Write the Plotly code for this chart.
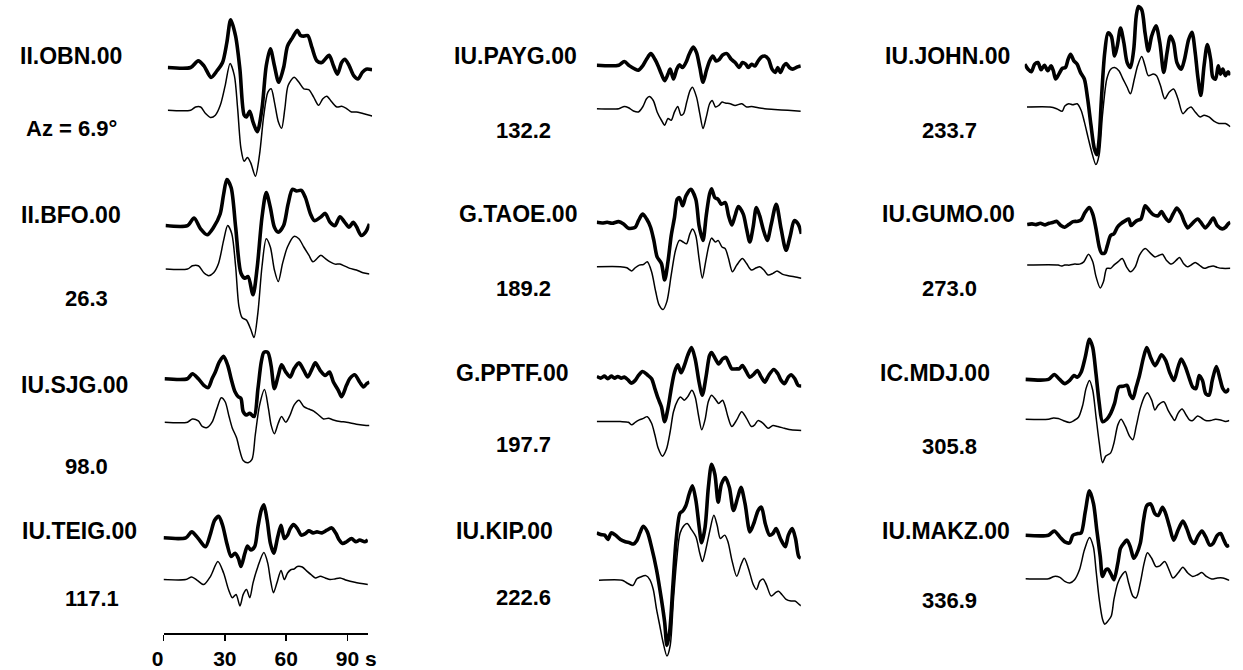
import plotly.graph_objects as go

W, H = 1243, 670

# ---------------- data (time in s, amplitude in display units, positive up) -------------
stations = ["II.OBN.00", "II.BFO.00", "IU.SJG.00", "IU.TEIG.00",
            "IU.PAYG.00", "G.TAOE.00", "G.PPTF.00", "IU.KIP.00",
            "IU.JOHN.00", "IU.GUMO.00", "IC.MDJ.00", "IU.MAKZ.00"]
azimuths = ["Az = 6.9°", "26.3", "98.0", "117.1",
            "132.2", "189.2", "197.7", "222.6",
            "233.7", "273.0", "305.8", "336.9"]
time_ticks = [0, 30, 60, 90]
time_tick_labels = ["0&nbsp;&nbsp;", "30", "60", "&nbsp;&nbsp;&nbsp;90&nbsp;s"]

# II.OBN.00
obn_t_obs = [0, 11.2, 14.9, 17.7, 21.2, 24.1, 26.8, 28.9, 30.8, 33.2, 35.3, 37.4, 38.5, 40.1, 41.7, 43.8, 46.1, 48.2, 50.2, 52.2, 54.3, 56.7, 58.6, 61.0, 63.4, 65.0, 66.6, 68.5, 70.6, 73.0, 75.4, 77.0, 79.0, 81.1, 83.0, 85.1, 86.7, 88.8, 91.0, 93.1, 95.2, 97.1, 100]
obn_a_obs = [0, 0, 6.7, 1.7, -10, -3.3, 5, 25, 48.3, 31.7, -1.7, -48.3, -50, -44.3, -55, -65, -41.7, 1.7, 19, 1.7, -15, 0, 21.7, 30, 37.7, 32.3, 31.7, 32.3, 20, 6.7, 5, 8.3, 12.3, 1.7, -6.7, 5, 8.3, 1.7, -8.3, -11.7, -5, -1.7, -2.3]
obn_t_syn = [0, 11.2, 13.6, 16.1, 18.5, 20.9, 23.3, 25.7, 28.1, 30.5, 32.6, 34.2, 35.8, 37.4, 39.0, 40.6, 42.9, 44.9, 47.0, 49.0, 50.6, 52.2, 54.1, 55.7, 57.3, 58.9, 61.8, 64.2, 66.6, 69.0, 71.4, 73.8, 75.9, 77.8, 80.3, 82.7, 85.1, 87.5, 89.9, 92.3, 95.5, 100]
obn_a_syn = [0, 0, 3.3, 3.3, -3.3, -7.3, -5, 5, 25, 47.3, 35, 1.7, -38.3, -51.7, -47.7, -53.3, -66.7, -45, -5, 18.3, 21.7, 8.3, -11.7, -18.3, 1.7, 25, 33.3, 28.3, 21.7, 21, 13.3, 5, 11.7, 14.3, 8.3, 3.3, 4, 1.7, -1.7, -1.7, -3.3, -5.7]

# II.BFO.00
bfo_t_obs = [0, 10.8, 14.0, 17.2, 20.4, 23.6, 26.8, 28.5, 30.1, 32.2, 34.4, 37.0, 38.9, 40.5, 42.9, 45.0, 47.3, 49.4, 51.4, 53.4, 55.3, 57.9, 60.1, 62.2, 64.3, 66.6, 68.6, 71.1, 73.0, 75.9, 78.3, 80.7, 83.1, 85.5, 87.9, 90.0, 92.0, 93.6, 96.0, 98.1, 100]
bfo_a_obs = [0, 0, 7.7, -3.3, -9.3, -1.7, 11.7, 31.7, 46.7, 38.3, -1.7, -48.3, -53.3, -51.7, -70, -41.7, 8.3, 33.3, 18.3, -1.7, -6.7, 0, 21.7, 36.7, 35, 35.7, 28.3, 11.7, 5, 8.3, 12.3, 3.3, 0, 9, 3.3, -1.7, 3.3, -1, -10, -6.7, 1.7]
bfo_t_syn = [0, 10.8, 13.2, 16.1, 18.8, 21.2, 23.6, 26.0, 28.5, 30.5, 32.5, 34.4, 36.0, 37.6, 39.7, 41.8, 43.4, 45.3, 47.3, 49.4, 51.4, 53.4, 55.3, 57.4, 59.8, 63.0, 65.4, 67.8, 70.3, 72.3, 74.3, 76.2, 78.3, 80.7, 83.1, 85.5, 87.9, 90.4, 93.6, 96.8, 100]
bfo_a_syn = [0, 0, 3.3, 3.3, -3.7, -6.7, -3.7, 5.7, 29, 44, 35.7, 2.3, -37.7, -49.3, -51.7, -61, -69.3, -44.3, 2.3, 30.7, 22.3, -1, -12.7, 5.7, 22.3, 33, 30.7, 22.3, 14, 7.3, 10.7, 14, 10.7, 7.3, 5, 5, 3, 0.7, -1, -3.7, -5]

# IU.SJG.00
sjg_t_obs = [0, 11.2, 13.6, 16.5, 19.2, 21.3, 23.2, 24.8, 26.7, 28.8, 30.9, 32.5, 34.4, 36.0, 37.3, 38.4, 40.0, 41.6, 43.7, 45.6, 47.2, 48.5, 50.4, 52.0, 53.6, 55.5, 57.1, 59.2, 61.3, 63.2, 65.6, 68.0, 69.9, 72.0, 73.6, 76.0, 78.4, 80.5, 82.4, 84.8, 86.4, 88.8, 90.4, 92.8, 95.2, 97.1, 98.7, 100]
sjg_a_obs = [0, 0, 5, 0, -6.7, -9, 0, 6.7, 16.7, 22.7, 13.3, 0, -13.3, -18.3, -20, -33.3, -36.7, -35, -38.3, -10, 16.7, 26.7, 26.7, 13.3, -10, 3.3, 14, 6.7, 1.7, 10, 16, 8.3, 1.7, 10, 16, 8.3, 3.3, 6.7, -3.3, -11.7, -18.3, -6.7, 0, 4, -3.3, -8.3, -5, -3.3]
sjg_t_syn = [0, 11.2, 13.6, 16.5, 18.4, 20.8, 23.2, 25.6, 27.7, 29.6, 31.5, 33.1, 35.2, 36.8, 38.4, 40.8, 42.7, 44.3, 46.4, 48.8, 50.7, 52.0, 53.6, 55.5, 57.1, 59.2, 61.3, 63.2, 65.6, 68.0, 70.4, 72.8, 75.2, 77.6, 80.0, 82.4, 85.6, 88.8, 93.6, 98.4, 100]
sjg_a_syn = [0, 0, 3.3, 1.3, -4.3, -5.3, 0, 14, 24.7, 20.7, 5.7, -6, -16, -29.3, -38.7, -41, -37.7, -12.7, 17.3, 33, 14, -2.7, -11.7, -1, 5.7, 0, 7.3, 17.3, 22.3, 15.7, 13.3, 11.3, 7.3, 3.3, 4, 2.3, 0.7, 0, -2, -3.3, -3.3]

# IU.TEIG.00
teig_t_obs = [0, 10.9, 13.8, 17.0, 20.5, 23.0, 25.0, 27.0, 28.9, 31.0, 33.1, 35.0, 36.6, 37.9, 39.8, 41.1, 42.7, 44.6, 46.2, 47.8, 49.1, 50.7, 52.3, 53.9, 55.9, 57.5, 59.1, 60.7, 62.0, 63.6, 65.5, 67.4, 69.5, 71.1, 73.2, 75.1, 77.5, 79.9, 82.3, 84.4, 86.0, 87.6, 89.6, 92.0, 94.1, 96.0, 98.4, 100]
teig_a_obs = [0, 0, 6, -0.7, -9, 4.3, 17.7, 21.7, 12.7, -5.7, -19, -15.7, -20.7, -29, -15.7, -8.3, -12.3, -9, 11, 27.7, 33.3, 17.7, -5.7, -15.7, 1, 12.7, -0.7, 2.7, 9.3, 13.3, 9.3, 2.7, 4.3, 7, 5, 6, 5, 7.7, 10, 4.3, -2.3, -5.7, -4, -0.7, -4, -2.3, -4, -2.3]
teig_t_syn = [0, 10.9, 13.8, 16.5, 19.7, 23.0, 26.6, 29.4, 31.8, 33.7, 35.5, 37.4, 39.0, 40.6, 42.2, 43.8, 46.2, 49.1, 51.0, 52.3, 53.8, 55.5, 57.5, 59.1, 60.7, 62.3, 63.9, 65.5, 67.9, 70.3, 72.2, 74.3, 76.7, 79.1, 81.5, 83.9, 86.4, 89.6, 93.6, 100]
teig_a_syn = [0, 0, 2.7, -0.7, -5, 3.3, 18.3, 6.7, -10, -18.3, -15, -26.7, -15, -10, -18.3, -3.3, 13.3, 27.3, 16.7, 0, -13.3, -3.3, 9.3, 0, 6.7, 10, 10.7, 13.3, 12.7, 8.3, 5, 1.7, 3.3, 1.7, 0, 0.7, 1.7, -0.7, -2.7, -5]

# IU.PAYG.00
payg_t_obs = [0, 10.8, 13.5, 16.1, 18.8, 20.4, 22.5, 24.4, 26.5, 28.5, 30.1, 31.7, 33.3, 34.9, 36.0, 37.6, 39.2, 40.5, 42.1, 43.7, 45.3, 47.3, 48.9, 50.5, 52.1, 53.7, 55.3, 56.9, 58.5, 60.1, 61.7, 63.8, 65.9, 67.8, 69.8, 71.4, 73.0, 74.3, 75.9, 77.5, 79.1, 80.7, 82.3, 84.2, 85.9, 87.5, 88.7, 90.0, 91.6, 92.8, 94.4, 96.0, 98.4, 100]
payg_a_obs = [0, 0, 3.7, -0.7, -4, -5, -0.7, 6, 11.7, 6, -0.7, -9, -15.7, -9, -4, -14, -4, 0.3, -2.3, 2.7, 11, 18.3, 12.7, -2.3, -17.3, -5.7, 4.3, 9.3, 4.3, 6, 10.3, 11.7, 6, 2.7, -2.3, 2.7, 1, -2.3, 1, -0.7, 4.3, 8.3, 9.3, 6, -4, -7.3, -2.3, -7.3, -0.7, 1.7, -2.3, -4, -1.7, -0.7]
payg_t_syn = [0, 10.8, 13.5, 15.6, 18.0, 20.4, 22.5, 24.4, 25.7, 27.7, 29.6, 31.7, 33.3, 34.9, 36.5, 38.1, 39.7, 41.3, 42.6, 44.1, 45.7, 46.9, 48.9, 50.5, 52.1, 53.7, 55.3, 56.6, 58.2, 59.8, 61.4, 63.0, 65.4, 67.8, 71.1, 73.5, 75.9, 79.1, 82.3, 87.1, 93.6, 100]
payg_a_syn = [0, 0, 2.3, 1, -2.3, -3.3, 1.7, 10, 12.3, 8.3, -3.3, -11.7, -16.7, -10, -11.7, -3.3, 2.3, -6.7, -5, 6.7, 18.3, 21.7, 11.7, -5, -20, -8.3, 5, 8.3, 1.7, 3.3, 6.7, 5.7, 5, 3.3, 5, 1.7, 2.3, 1, 0, -0.7, -1.7, -2.7]

# G.TAOE.00
taoe_t_obs = [0, 2.7, 5.1, 7.5, 10.7, 13.1, 15.5, 18.8, 20.4, 22.4, 24.4, 26.3, 27.9, 29.5, 31.6, 33.2, 34.8, 36.4, 38.0, 39.3, 40.4, 42.0, 43.6, 46.0, 48.4, 50.0, 51.9, 53.5, 55.1, 56.1, 57.7, 59.3, 60.9, 62.8, 64.4, 66.0, 67.6, 69.2, 71.6, 73.2, 74.8, 76.4, 78.0, 79.6, 81.3, 83.3, 85.3, 87.7, 90.1, 92.5, 94.6, 96.5, 98.4, 100]
taoe_a_obs = [0, -0.7, 0, -1, 0.7, -1.7, -6, -5, 1.7, 8.3, 3.3, -5, -18.3, -35, -41.7, -58.3, -40, -13.3, 5, 23.3, 25, 16.7, 26.7, 33.3, 23.3, -3.3, -18.3, 6.7, 28.3, 34, 25, 23.3, 18.3, 20, 6.7, -2.7, 6.7, 16, 8.3, -6.7, -20, -5, 15, 6.7, -6.7, -18.3, -1.7, 18.3, -6.7, -28.3, -13.3, 1.7, -1.7, -11.7]
taoe_t_syn = [0, 11.5, 14.7, 17.1, 18.8, 20.8, 22.8, 24.7, 26.8, 28.8, 30.4, 32.4, 34.3, 36.4, 38.5, 40.4, 42.3, 43.9, 45.5, 46.8, 48.4, 50.0, 51.6, 53.2, 54.8, 56.1, 58.0, 59.3, 61.2, 62.8, 64.4, 66.3, 68.4, 71.2, 73.2, 75.6, 78.0, 79.6, 81.7, 83.7, 86.1, 88.1, 90.9, 93.6, 96.5, 100]
taoe_a_syn = [0, 0, -1, -4.3, -1, 1.7, 2.3, 5, -5, -25, -38.3, -43.3, -35, -8.3, 16.7, 26.7, 25, 23.3, 33.3, 38.3, 31.7, 8.3, -11.7, 5, 21.7, 29, 25, 26.7, 20, 18.3, 8.3, -5, 1.7, 8.3, 3.3, -3.3, -1, 0, -3.3, -8.3, -6.7, -4.3, -7.7, -9, -10, -11.7]

# G.PPTF.00
pptf_t_obs = [0, 1.9, 3.8, 5.4, 7.1, 8.7, 10.3, 11.9, 13.5, 15.5, 16.7, 18.8, 20.4, 22.4, 24.7, 26.8, 28.4, 30.0, 31.6, 33.2, 34.8, 36.4, 38.0, 39.6, 41.2, 42.8, 44.4, 46.3, 48.1, 50.0, 51.6, 53.5, 55.1, 56.1, 58.0, 59.6, 61.5, 63.1, 64.7, 66.0, 68.4, 69.6, 71.2, 72.8, 74.8, 76.9, 78.5, 80.4, 82.1, 84.0, 86.5, 88.5, 90.1, 91.7, 93.6, 94.9, 96.8, 98.4, 100]
pptf_a_obs = [0, -1.7, 0.3, -2.3, 0.3, -1.7, 0, -1.7, -0.7, -4, -6.7, -4, 1, 5, 1.7, -2.3, -12.3, -22.3, -30.7, -45.7, -32.3, -12.3, 4.3, 11.7, 3.7, 11, 21, 29.3, 17.7, -5.7, -19, 1, 21, 24.3, 17.7, 12.7, 17.7, 19.3, 12.7, 7.7, 7.7, 7.7, 11, 6, -0.7, 2.7, 6, -0.7, -5.7, 1, 7, 2.7, -4, -7.3, -0.7, 1.7, -2.3, -9, -9.7]
pptf_t_syn = [0, 11.5, 15.5, 17.1, 18.8, 20.8, 22.8, 24.7, 26.8, 28.4, 30.0, 32.1, 34.0, 35.9, 37.5, 39.6, 40.9, 42.8, 44.4, 46.5, 48.1, 49.7, 51.3, 52.9, 54.5, 56.1, 58.3, 59.6, 61.5, 62.8, 64.1, 66.0, 68.4, 70.8, 73.2, 75.6, 77.2, 78.8, 81.3, 83.7, 86.1, 88.5, 91.7, 94.9, 100]
pptf_a_syn = [0, 0, -0.7, -3.3, -0.7, 1.7, 3.3, 5, -1.7, -13.3, -26.7, -35, -28.3, -10, 10, 21.7, 25, 21.7, 25, 31.7, 25, 6.7, -8.3, 1.7, 20, 26.7, 21.7, 18.3, 21.7, 15, 5, -5, 1.7, 10, 3.3, -5, -3.3, 1, -1.7, -6.7, -4, -5, -6.7, -8.3, -9]

# IU.KIP.00
kip_t_obs = [0, 1.9, 3.9, 5.5, 7.1, 9.2, 11.6, 14.0, 16.1, 18.0, 19.6, 21.2, 22.8, 24.8, 26.8, 29.3, 31.7, 33.3, 34.4, 35.7, 37.3, 38.9, 40.8, 42.1, 43.7, 45.3, 46.9, 48.6, 50.2, 51.4, 53.1, 54.7, 56.3, 57.9, 59.5, 61.1, 63.0, 65.0, 67.0, 69.1, 70.7, 72.7, 75.1, 77.2, 79.1, 80.7, 82.6, 84.7, 86.3, 87.9, 90.0, 92.4, 93.9, 95.8, 97.4, 99.0, 100]
kip_a_obs = [0, -1.7, -2.3, -6.7, 0, -2.3, -6.7, -9, -10, -11.3, -8, 0, 6.7, 1, -14, -37.3, -67.3, -90.7, -114, -100.7, -54, -7.3, 20, 22, 27.7, 39.3, 47.7, 32.7, 6, -10, 6, 46, 69.3, 59.3, 31, 49.3, 56, 46, 22.7, 36, 46, 29.3, 1, 11, 22.7, 26, 9.3, -2.3, -0.7, 4.3, -5.7, -14, -2.3, 4.3, -5.7, -24, -25.7]
kip_t_syn = [1.1, 12.4, 14.8, 17.7, 19.6, 21.5, 24.1, 26.0, 27.7, 29.3, 30.9, 32.5, 34.4, 36.0, 37.6, 39.2, 40.8, 42.9, 44.5, 46.1, 48.6, 50.5, 51.8, 53.4, 55.3, 57.4, 59.0, 60.6, 62.7, 64.3, 66.2, 68.6, 70.7, 72.3, 74.3, 76.7, 78.3, 79.9, 81.5, 83.1, 85.5, 87.5, 89.1, 90.7, 92.8, 95.2, 97.1, 99.2, 100.8]
kip_a_syn = [0, 0, -2.7, -5.3, 1.3, 3.3, 4.7, 0.7, -9.3, -29.3, -46, -62.7, -76.7, -66, -19.3, 20.7, 47.3, 55.7, 57.3, 52.3, 44, 27.3, 19, 30.7, 49, 65.7, 55.7, 42.3, 45.7, 39, 20.7, 4, 15.7, 22.3, 12.3, -4.3, -9.3, -1, 1.3, -4.3, -16, -12.7, -11, -14.3, -19.3, -21, -21, -24.3, -26.7]

# IU.JOHN.00
john_t_obs = [0, 1.6, 3.2, 4.8, 6.4, 8.0, 9.6, 11.2, 12.8, 13.9, 15.0, 16.6, 18.2, 19.8, 21.1, 22.3, 23.9, 25.5, 27.1, 29.0, 30.6, 32.2, 33.8, 35.1, 36.2, 37.3, 38.9, 40.5, 42.1, 43.7, 45.0, 46.6, 48.2, 49.8, 51.4, 53.0, 54.2, 55.3, 56.9, 58.5, 60.1, 61.7, 63.8, 65.7, 67.6, 69.2, 70.8, 72.4, 74.0, 76.1, 77.7, 79.7, 81.3, 82.9, 84.1, 85.6, 87.2, 88.8, 90.4, 91.5, 92.8, 94.1, 95.2, 96.3, 97.6, 98.9, 100]
john_a_obs = [3.3, -1.7, -4.3, 3.3, 5, -2.3, 2.3, -3.3, 1.7, -3.3, -11.7, -6.7, -1, 0, 8.3, 13.3, 6.7, 3.3, -5, -11.7, -31.7, -58.3, -81.7, -88.3, -71.7, -31.7, 15, 35, 31.7, 11.7, 21.7, 40, 25, 5, 0, 18.3, 51.7, 61.7, 58.3, 35, 16.7, 31.7, 42.3, 25, -5, 15, 31.7, 25, 5, -1.7, 8.3, 28.3, 35.7, 15, -8.3, -28.3, 1.7, 23.3, 8.3, -10, -11.7, 1.7, -6.7, -1.7, -8.3, -4.3, -7.7]
john_t_syn = [1.1, 12.3, 15.5, 18.2, 19.5, 21.4, 23.4, 25.5, 27.4, 29.0, 30.9, 32.5, 34.6, 36.2, 37.8, 39.9, 41.8, 43.7, 45.8, 47.8, 49.8, 51.4, 53.3, 54.9, 56.9, 58.5, 60.1, 62.5, 64.1, 66.0, 68.1, 70.2, 72.4, 74.5, 76.9, 79.3, 80.9, 82.9, 85.2, 87.2, 89.6, 92.0, 94.4, 97.6, 100]
john_a_syn = [0, 0, -1.7, -4.3, 1, 3.3, 2.3, 3.3, -3.3, -15, -31.7, -45, -58.3, -48.3, -8.3, 28.3, 38.3, 40, 36.7, 28.3, 20, 13.3, 28.3, 41.7, 51, 41.7, 31.7, 33.3, 31.7, 21.7, 8.3, 15, 18.3, 8.3, -6.7, -1.7, 0, -5, -10, -8.3, -10, -14.3, -16.7, -16.7, -20]

# IU.GUMO.00
gumo_t_obs = [0, 2.4, 4.4, 6.5, 8.9, 10.8, 12.9, 14.5, 16.6, 18.5, 20.5, 22.6, 25.0, 26.6, 28.5, 30.6, 32.3, 33.9, 35.5, 36.6, 38.2, 39.5, 41.1, 42.7, 44.4, 46.0, 48.4, 50.0, 51.1, 52.4, 54.0, 56.0, 58.1, 60.2, 62.1, 64.5, 66.1, 67.7, 69.8, 71.8, 73.7, 75.8, 77.4, 79.0, 81.1, 83.9, 86.0, 87.6, 89.5, 91.6, 93.5, 96.0, 97.6, 98.9, 100]
gumo_a_obs = [0, 0.7, 0, 1.3, -0.3, 1.3, 2.3, 3.3, -1, -2.7, 0, 3, 3.3, 4.7, 12.3, 17.3, 10.7, -4.3, -22.7, -28.7, -28.7, -21, -11, -9.3, -2.7, 0.7, 4, 5.7, -1, 1.3, 4, 5.7, 19, 14, 10, 9, 13.3, 8, 3.3, 10.7, 16.7, 10.7, 2.3, -3.3, 0.7, 5.7, 0.7, -3.3, 0.7, 6.7, -1, -4.3, -2.7, 0.7, 2.3]
gumo_t_syn = [0, 15.3, 16.9, 18.5, 21.0, 23.4, 25.8, 27.9, 30.2, 32.3, 33.9, 36.0, 37.6, 39.2, 41.1, 42.7, 44.7, 46.8, 48.9, 50.8, 53.2, 55.3, 58.1, 60.5, 62.9, 65.0, 66.6, 68.5, 71.0, 73.4, 75.0, 76.9, 79.0, 80.6, 82.7, 84.7, 87.1, 89.5, 91.6, 93.5, 96.0, 100]
gumo_a_syn = [0, 0, -1, 0, 0, 1, 1, 3.3, 11, 3.3, -11.7, -23.3, -16.7, -3.3, -3.3, 0, 3.3, 6.7, -1.7, -6.7, -1.7, 10, 16.7, 12.3, 8.3, 10, 11, 5, 1, 5, 7.7, 1.7, -1.7, 0, 2.7, 0, -3.3, -1.7, -1, -2.3, -3.3, -3.3]

# IC.MDJ.00
mdj_t_obs = [0, 11.3, 14.1, 16.9, 19.3, 21.7, 23.8, 25.4, 27.3, 29.3, 31.4, 33.0, 34.6, 36.2, 37.8, 39.9, 41.8, 43.7, 45.8, 47.9, 49.8, 51.4, 52.7, 54.3, 55.9, 57.9, 59.5, 61.4, 63.5, 65.1, 66.7, 68.8, 70.7, 72.8, 74.8, 76.4, 78.5, 80.4, 82.0, 83.6, 85.2, 86.8, 88.4, 90.0, 91.6, 93.6, 95.2, 96.8, 98.4, 100]
mdj_a_obs = [0, 0, 5, -0.3, -4.3, -1, 4, 2.3, 7.3, 22.3, 40.7, 32.3, 5.7, -24.3, -42.7, -40.3, -34.3, -24.3, -7.7, -7, -6, -16, -19.3, -7.7, 4, 22.3, 32.3, 22.3, 14, 19, 25, 19, 7.3, -1, 12.3, 20.7, 12.3, 0.7, -7.7, -9.3, 4, -1, -14.3, -16, -1, 13, 2.3, -9.3, -12.7, -9.3]
mdj_t_syn = [0, 11.3, 13.7, 16.1, 18.5, 21.7, 23.8, 26.0, 28.1, 29.7, 31.4, 33.0, 34.6, 36.2, 37.8, 39.4, 41.8, 43.4, 45.3, 46.9, 49.0, 51.1, 52.7, 54.3, 56.3, 58.7, 59.8, 61.9, 63.5, 65.1, 67.8, 69.9, 72.0, 73.2, 74.8, 76.8, 78.8, 80.4, 82.0, 84.4, 86.5, 88.4, 90.8, 93.2, 95.7, 98.1, 100]
mdj_a_syn = [0, 0, 1.3, 0.7, -1.3, -3.3, -1.3, 2, 14.3, 31, 39.3, 29.3, 2.7, -24, -44, -37.3, -34, -24, -5.7, 0, -7.3, -17.3, -20.7, -7.3, 11, 24.3, 26.7, 19.3, 9.3, 14.3, 17.7, 9.3, 2, -1.3, 6, 10.3, 4.3, -0.7, -1.3, 3.3, 1, -1.3, -1.3, 0, -0.7, -2.3, -1.3]

# IU.MAKZ.00
makz_t_obs = [0, 11.3, 14.1, 16.9, 19.3, 21.7, 23.3, 25.7, 27.3, 29.3, 31.4, 33.4, 35.0, 36.7, 37.8, 39.4, 40.5, 42.1, 43.4, 45.3, 46.6, 48.2, 49.8, 51.4, 53.1, 54.3, 56.3, 57.9, 59.5, 61.4, 63.5, 65.1, 67.2, 68.8, 70.7, 72.7, 74.8, 77.2, 79.1, 81.2, 82.8, 84.4, 86.5, 88.4, 90.4, 92.0, 94.1, 95.7, 97.3, 98.9, 100]
makz_a_obs = [0, 0, 4.3, -1.7, -6.7, -7.7, 0, 1.7, 2.3, 23.3, 45, 31.7, 5, -21.7, -41.7, -35, -34.3, -40, -45, -28.3, -13.3, -8.3, -5, -11.7, -23.3, -20, -8.3, 15, 30, 31.7, 21.7, 20, 28.3, 21.7, 8.3, -5, 5, 14.3, 6.7, -5, -8.3, -1.7, 4.3, -1.7, -10, -8.3, 0, 1.7, -5, -11, -10]
makz_t_syn = [0, 11.3, 14.1, 16.9, 19.3, 21.7, 24.1, 26.5, 28.9, 31.4, 33.3, 34.6, 36.2, 37.8, 38.9, 40.5, 42.1, 43.4, 45.3, 47.4, 49.0, 50.6, 52.7, 54.3, 56.3, 58.2, 59.8, 61.9, 64.0, 65.9, 68.3, 70.4, 72.3, 74.8, 77.2, 79.6, 82.0, 84.4, 86.5, 88.7, 91.3, 94.1, 96.8, 100]
makz_a_syn = [0, 0, 2.3, 1.3, -2.7, -4.3, -1, 9, 29, 41.7, 32.3, 9, -21, -41, -46, -42.7, -37.7, -21, -4.3, 4, 7.3, -4.3, -17.7, -19.3, -4.3, 15.7, 26.3, 20.7, 12.3, 13, 17.3, 9, 0.7, 5.7, 11.7, 5.7, 2.3, 4, 6.3, 2.3, -0.3, 0.7, 0.7, -1.7]

observed = [(obn_t_obs, obn_a_obs), (bfo_t_obs, bfo_a_obs), (sjg_t_obs, sjg_a_obs), (teig_t_obs, teig_a_obs),
            (payg_t_obs, payg_a_obs), (taoe_t_obs, taoe_a_obs), (pptf_t_obs, pptf_a_obs), (kip_t_obs, kip_a_obs),
            (john_t_obs, john_a_obs), (gumo_t_obs, gumo_a_obs), (mdj_t_obs, mdj_a_obs), (makz_t_obs, makz_a_obs)]
synthetic = [(obn_t_syn, obn_a_syn), (bfo_t_syn, bfo_a_syn), (sjg_t_syn, sjg_a_syn), (teig_t_syn, teig_a_syn),
             (payg_t_syn, payg_a_syn), (taoe_t_syn, taoe_a_syn), (pptf_t_syn, pptf_a_syn), (kip_t_syn, kip_a_syn),
             (john_t_syn, john_a_syn), (gumo_t_syn, gumo_a_syn), (mdj_t_syn, mdj_a_syn), (makz_t_syn, makz_a_syn)]

# ---------------- layout (pixel geometry of each panel) ----------------
# (px of t=0, px of t=100, baseline row px of observed trace, vertical gap to synthetic)
panel_geom = [
    (158.3, 366.0, 68.3, 43.3), (156.0, 363.3, 228.3, 44.0), (155.0, 363.3, 383.3, 44.0), (154.0, 361.7, 544.3, 42.3),
    (594.3, 801.7, 66.0, 44.0), (594.3, 802.3, 225.0, 45.0), (594.3, 802.3, 381.0, 45.7), (594.3, 801.7, 539.3, 48.0),
    (1029.3, 1238.3, 68.3, 40.0), (1031.7, 1238.3, 227.3, 41.0), (1030.0, 1237.3, 384.0, 40.3), (1030.0, 1237.3, 541.7, 44.0),
]
# label positions: (name left px, name centre row px, azimuth left px, azimuth centre row px)
label_geom = [
    (6, 57, 12, 130), (7, 218, 52, 302), (7, 390, 52, 472), (8, 537, 52, 606),
    (447, 57, 490, 132), (452, 217, 490, 292), (449, 378, 490, 450), (449, 537, 490, 605),
    (885, 57, 923, 132), (882, 217, 923, 292), (880, 378, 923, 452), (882, 537, 923, 608),
]
TICK_T0, TICK_T100 = 154.0, 361.7   # px span of the time scale (0 .. 100 s)

FONT = "Liberation Sans, Arial, Helvetica, sans-serif"
fig = go.Figure()
layout = dict(width=W, height=H, margin=dict(l=0, r=0, t=0, b=0), autosize=False,
              paper_bgcolor="white", plot_bgcolor="rgba(0,0,0,0)", showlegend=False)
annotations = []

for i in range(12):
    n = i + 1
    xs = "" if n == 1 else str(n)
    x0, x1, base, gap = panel_geom[i]
    t_o, a_o = observed[i]
    t_s, a_s = synthetic[i]
    fig.add_trace(go.Scatter(x=t_o, y=a_o, mode="lines", xaxis="x" + xs, yaxis="y" + xs,
                             line=dict(color="black", width=3.6, shape="spline", smoothing=0.8),
                             hoverinfo="skip"))
    fig.add_trace(go.Scatter(x=t_s, y=[v - gap for v in a_s], mode="lines", xaxis="x" + xs, yaxis="y" + xs,
                             line=dict(color="black", width=1.5, shape="spline", smoothing=0.8),
                             hoverinfo="skip"))
    layout["xaxis" + xs] = dict(domain=[x0 / W, x1 / W], range=[0, 100], visible=False,
                                anchor="y" + xs, fixedrange=True)
    layout["yaxis" + xs] = dict(domain=[0, 1], range=[base - H, base], visible=False,
                                anchor="x" + xs, fixedrange=True)
    nx, ny, ax_, ay_ = label_geom[i]
    annotations.append(dict(text=stations[i], xref="paper", yref="paper", x=nx / W, y=1 - ny / H,
                            xanchor="left", yanchor="middle", showarrow=False,
                            font=dict(family=FONT, size=23, color="black", weight="bold")))
    annotations.append(dict(text=azimuths[i], xref="paper", yref="paper", x=ax_ / W, y=1 - ay_ / H,
                            xanchor="left", yanchor="middle", showarrow=False,
                            font=dict(family=FONT, size=22, color="black", weight="bold")))

# time scale bar (the unit "s" rides on the last tick label)
layout["xaxis13"] = dict(domain=[TICK_T0 / W, TICK_T100 / W], range=[0, 100], anchor="free",
                         position=1 - 640.7 / H, showline=True, linecolor="black", linewidth=1.5,
                         ticks="outside", ticklen=6, tickwidth=1.5, tickcolor="black",
                         tickvals=time_ticks, ticktext=time_tick_labels, showgrid=False, zeroline=False,
                         tickfont=dict(family=FONT, size=21, color="black", weight="bold"), fixedrange=True)
layout["yaxis13"] = dict(domain=[0, 1], visible=False, anchor="x13", fixedrange=True)
fig.add_trace(go.Scatter(x=[None], y=[None], xaxis="x13", yaxis="y13", showlegend=False))

layout["annotations"] = annotations
fig.update_layout(**layout)
fig.write_html("out.html", config={"displayModeBar": False, "staticPlot": True},
               post_script="document.body.style.margin='0px';document.body.style.overflow='hidden';")
